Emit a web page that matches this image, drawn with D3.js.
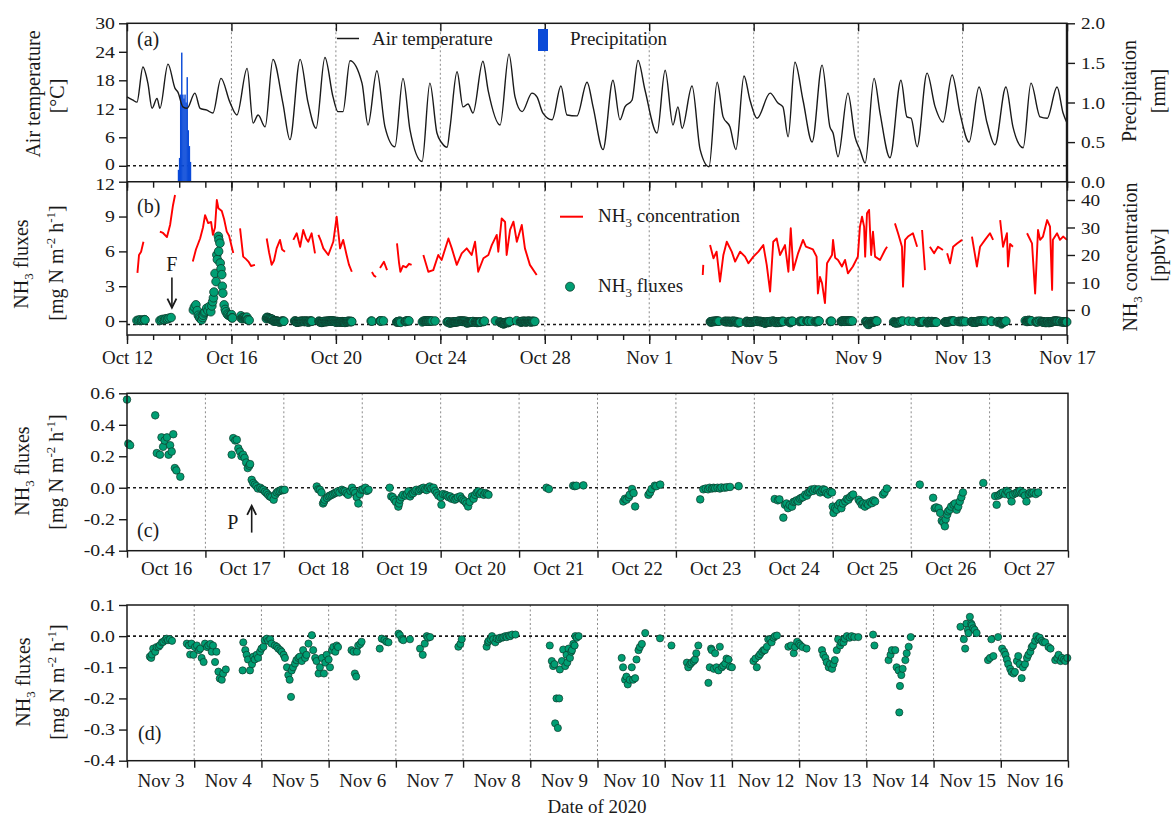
<!DOCTYPE html>
<html><head><meta charset="utf-8">
<script src="https://cdn.jsdelivr.net/npm/d3@7"></script>
<style>
body{margin:0;background:#fff}
svg{display:block;background:#fff}
</style>
</head><body>
<svg id="chart" width="1174" height="819"></svg>
<script>
// ---------------- DATA ----------------
// Panel (a): air temperature, day offset from Oct 12 00:00
const tempDay = [0,0.23,0.38,0.61,0.80,0.96,1.15,1.26,1.57,1.84,1.95,2.14,2.30,2.60,2.80,3.06,3.29,3.60,3.94,4.21,4.60,4.83,5.02,5.29,5.59,5.97,6.24,6.63,6.93,7.24,7.58,7.89,8.08,8.27,8.54,9.00,9.23,9.57,9.88,10.26,10.57,10.84,11.30,11.60,11.87,12.06,12.26,12.37,12.64,12.87,13.06,13.25,13.63,13.83,14.29,14.63,14.86,15.13,15.51,15.70,15.93,16.28,16.62,16.85,17.23,17.62,17.85,18.23,18.61,18.88,19.07,19.34,19.57,19.84,20.30,20.61,20.91,21.10,21.26,21.64,21.95,22.29,22.60,22.83,23.09,23.32,23.63,23.86,24.13,24.63,24.93,25.12,25.32,25.58,25.89,26.24,26.62,26.92,27.04,27.23,27.61,27.88,28.07,28.27,28.61,28.84,29.22,29.64,29.87,30.03,30.26,30.64,30.95,31.25,31.60,31.90,32.25,32.63,32.94,33.24,33.66,33.93,34.32,34.62,34.97,35.24,35.62,35.85,36.0];
const tempC = [14.5,13.8,13.4,20.8,17.4,12.1,14.2,12.1,21.4,16.3,15.5,12.4,12.1,15.3,12.1,11.7,11.1,18.4,13.4,10.7,20.5,9.0,10.7,8.2,22.4,13.2,5.5,22.4,13.4,7.9,22.8,14.5,11.4,11.4,22.1,17.4,8.6,20.0,8.2,4.0,18.4,7.5,0.9,17.4,6.9,4.8,3.9,8.0,19.8,12.4,13.0,11.1,22.0,15.9,8.6,23.5,14.5,11.4,15.3,14.5,11.1,9.7,16.8,10.7,10.5,17.6,12.4,3.4,18.0,9.7,12.4,13.8,22.2,15.9,6.9,20.1,8.6,12.4,7.9,16.8,3.4,-0.2,17.6,10.3,8.2,3.4,18.9,13.8,10.0,15.3,13.2,12.4,6.1,21.8,13.8,5.0,21.2,8.2,6.9,1.9,15.3,6.1,3.4,0.6,18.4,11.1,1.7,18.0,10.3,10.0,4.0,19.5,12.4,9.2,19.1,11.1,5.0,16.6,9.0,4.4,16.6,8.2,3.8,17.4,10.3,10.0,16.6,11.1,9.0];

// Precipitation, hourly bars: start day (from Oct 12), mm
const precipDay = [1.945,1.987,2.029,2.070,2.112,2.154,2.195,2.237,2.279,2.320,2.362,2.404];
const precipMM  = [0.15,0.30,1.10,1.63,1.10,1.05,1.10,1.00,1.32,0.65,0.45,0.25];
const precipHours = 1/24;

// Panel (b): NH3 concentration [day from Oct 12, ppbv]; null = gap
const nh3Conc = [
[0.40,13.5],[0.46,20],[0.54,21.2],[0.63,24.8],null,
[1.26,28.5],[1.38,28],[1.53,26.5],[1.65,30.9],[1.76,38],[1.84,41.8],null,
[2.52,17.6],[2.64,22],[2.80,26],[2.91,30],[2.99,34.5],[3.11,31.6],[3.22,32],[3.29,27.3],[3.37,30],[3.44,40],[3.50,37],[3.63,36],[3.72,33],[3.82,28.5],[3.91,27],[4.01,23],[4.07,20.7],null,
[4.33,29.7],[4.45,19.4],[4.56,18.5],[4.65,17.6],[4.75,16],[4.90,16.4],null,
[5.35,26],[5.44,21],[5.54,16.4],[5.63,18],[5.73,22.4],[5.86,25.5],[5.94,22],[6.05,21.2],null,
[6.37,25.5],[6.50,27.9],[6.63,23],[6.75,29.1],[6.86,26],[6.94,24.8],[7.07,27.9],[7.20,20.6],null,
[7.33,27.3],[7.43,25],[7.52,22.4],[7.71,20],[7.90,24.8],[8.03,33.9],[8.16,22.4],[8.28,25.5],[8.41,20],[8.50,16.5],[8.61,13.9],null,
[9.38,13.8],[9.46,12.5],[9.54,12],null,
[9.69,15.3],[9.84,17.5],[9.96,14.5],null,
[10.34,24.2],[10.42,17],[10.47,13.9],[10.57,16],[10.69,15.5],[10.80,16.8],[10.90,16.4],null,
[11.35,20],[11.54,13.9],[11.73,14.5],[11.92,20],[12.05,18.2],[12.31,26],[12.44,22.4],[12.63,16.4],[12.82,20.6],[13.01,22.4],[13.20,20],[13.33,24.8],[13.45,13.9],[13.65,18.8],[13.84,20],[13.97,23.6],[14.16,27.3],[14.22,21.2],[14.35,33.3],[14.48,32],[14.54,20],[14.67,29.1],[14.80,32.1],[14.93,24.8],[15.12,30.9],[15.24,22.4],[15.43,16.4],[15.69,12.7],null,
[22.05,12.7],[22.07,16.4],null,
[22.33,23.6],[22.46,18.8],[22.58,21.2],[22.71,10.3],[22.84,20],[22.97,24.8],[23.16,21.2],[23.29,17.6],[23.48,21.2],[23.67,19.4],[23.80,17],[23.99,19.4],[24.18,21.2],[24.37,23.6],[24.50,16.4],[24.63,6.7],[24.75,24.8],[24.88,26],[25.01,20],[25.20,23.6],[25.33,13.9],[25.42,29.7],[25.52,14.5],[25.70,20.6],[25.89,25.5],[26.00,23],[26.27,22],[26.41,19.4],[26.46,6],[26.54,12],[26.62,9.7],[26.73,2.5],[26.81,17],[27.00,20],[27.04,25.5],[27.12,19],[27.23,18.2],[27.38,15.8],[27.50,18.2],[27.61,13.3],[27.80,15.8],[27.99,19.4],[28.07,30.3],[28.15,33.9],[28.23,30.3],[28.27,19.4],[28.34,35.2],[28.42,36.4],[28.50,20],[28.57,28.5],[28.65,19.4],[28.84,18.2],[29.03,21.8],[29.11,23],null,
[29.41,31.5],[29.53,27.9],[29.68,23],[29.72,8.5],[29.80,25.5],[29.91,26.7],[30.10,27.9],[30.26,23],null,
[30.45,29.1],[30.56,14.5],null,
[30.75,23],[30.91,20.6],[31.06,23],[31.25,21.8],null,
[31.41,20.6],[31.52,17],[31.64,23],[31.79,24.2],[31.98,25.5],null,
[32.36,26.7],[32.55,15.8],[32.67,23],[32.86,25.5],[33.05,27.9],[33.17,25.5],null,
[33.44,32.7],[33.55,23],[33.70,27.9],[33.74,15.8],[33.82,24],[33.93,23],null,
[34.47,27.9],[34.66,24.2],[34.78,6],[34.89,29.1],[34.97,25.5],[35.08,26.7],[35.24,32.7],[35.35,30.3],[35.43,7.3],[35.46,25.5],[35.62,27.9],[35.73,25.5],[35.85,26.7],[36.0,25.5]
];

// NH3 fluxes around fertilisation, [day from Oct 12, mg N m-2 h-1]
const fluxEarly = [
[0.38,0.05],[0.44,0.08],[0.50,0.10],[0.56,0.06],[0.61,0.08],[0.67,0.12],[0.69,0.10],
[1.26,0.05],[1.32,0.10],[1.38,0.15],[1.44,0.12],[1.49,0.20],[1.55,0.18],[1.61,0.25],[1.69,0.30],
[2.54,0.95],[2.58,1.2],[2.64,1.4],[2.69,0.9],[2.73,0.5],[2.77,0.35],[2.80,0.23],[2.86,0.1],[2.90,0.3],[2.92,0.5],[2.96,0.7],[2.99,0.8],[3.05,1.1],[3.10,0.9],[3.15,1.24],[3.21,0.8],[3.25,1.3],[3.28,1.67],[3.31,2.0],[3.33,2.5],[3.37,4.1],[3.41,3.4],[3.44,5.7],[3.46,5.3],[3.50,7.3],[3.52,7.0],[3.56,6.7],[3.51,6.0],[3.57,5.0],[3.60,4.5],[3.63,4.0],[3.65,3.0],[3.67,2.4],[3.72,1.4],[3.76,1.0],[3.79,0.8],[3.84,0.6],[3.88,0.5],[3.94,0.45],[3.98,0.4]
];

// Panel (c): NH3 fluxes, [day from Oct 16, mg N m-2 h-1]
const fluxOct = [
[0,0.56],[0.017,0.28],[0.04,0.27],[0.36,0.46],[0.38,0.22],[0.42,0.21],[0.44,0.32],[0.46,0.26],[0.48,0.30],[0.51,0.32],[0.53,0.21],[0.55,0.27],[0.57,0.23],[0.59,0.34],[0.61,0.125],[0.63,0.11],[0.68,0.07],
[1.335,0.21],[1.355,0.315],[1.38,0.30],[1.40,0.305],[1.42,0.25],[1.44,0.23],[1.46,0.20],[1.48,0.21],[1.50,0.19],[1.52,0.16],[1.54,0.125],[1.56,0.14],[1.57,0.15],[1.59,0.05],[1.61,0.03],[1.63,0.02],[1.65,0.01],[1.67,-0.005],[1.70,0.0],[1.72,-0.01],[1.74,-0.013],[1.76,-0.025],[1.78,-0.034],[1.80,-0.045],[1.82,-0.055],[1.84,-0.06],[1.87,-0.076],[1.89,-0.045],[1.91,-0.03],[1.93,-0.023],[1.95,-0.02],[1.97,-0.013],[1.99,-0.015],[2.01,-0.013],
[2.42,0.008],[2.44,-0.01],[2.46,-0.013],[2.48,-0.03],[2.50,-0.10],[2.51,-0.09],[2.52,-0.076],[2.55,-0.065],[2.57,-0.055],[2.59,-0.05],[2.61,-0.045],[2.63,-0.04],[2.65,-0.034],[2.67,-0.03],[2.69,-0.023],[2.71,-0.03],[2.74,-0.013],[2.76,-0.02],[2.78,-0.023],[2.80,-0.035],[2.82,-0.045],[2.85,-0.02],[2.87,0.0],[2.89,-0.02],[2.91,-0.034],[2.93,-0.06],[2.95,-0.10],[2.97,-0.04],[2.99,-0.013],[3.01,-0.01],[3.04,0.0],[3.06,-0.02],[3.08,-0.013],
[3.35,0.0],[3.37,-0.055],[3.39,-0.06],[3.41,-0.076],[3.43,-0.09],[3.46,-0.12],[3.47,-0.10],[3.48,-0.076],[3.50,-0.06],[3.52,-0.045],[3.55,-0.05],[3.57,-0.04],[3.59,-0.023],[3.61,-0.055],[3.63,-0.04],[3.65,-0.034],[3.67,-0.02],[3.69,-0.013],[3.72,-0.02],[3.74,-0.01],[3.76,-0.005],[3.78,0.0],[3.80,-0.01],[3.82,-0.015],[3.84,0.0],[3.86,0.008],[3.88,-0.005],[3.91,0.0],[3.93,-0.02],[3.95,-0.034],
[3.97,-0.05],[4.00,-0.06],[4.01,-0.108],[4.03,-0.04],[4.06,-0.045],[4.08,-0.05],[4.10,-0.06],[4.12,-0.055],[4.14,-0.07],[4.16,-0.065],[4.18,-0.076],[4.20,-0.07],[4.22,-0.06],[4.25,-0.055],[4.27,-0.07],[4.29,-0.08],[4.31,-0.087],[4.33,-0.10],[4.35,-0.119],[4.37,-0.09],[4.40,-0.055],[4.42,-0.07],[4.44,-0.045],[4.46,-0.03],[4.48,-0.023],[4.50,-0.04],[4.52,-0.03],[4.55,-0.045],[4.57,-0.034],[4.59,-0.04],[4.61,-0.045],
[5.35,0.0],[5.38,-0.008],[5.69,0.013],[5.71,0.01],[5.73,0.013],[5.82,0.015],
[6.33,-0.087],[6.35,-0.07],[6.37,-0.076],[6.40,-0.06],[6.41,-0.045],[6.44,-0.008],[6.46,-0.034],[6.48,-0.119],[6.65,-0.045],[6.67,-0.03],[6.69,-0.008],[6.73,0.013],[6.75,0.01],[6.80,0.02],
[7.31,-0.074],[7.35,-0.01],[7.38,-0.005],[7.41,-0.01],[7.43,0.0],[7.46,-0.005],[7.48,0.0],[7.50,-0.003],[7.53,0.0],[7.56,-0.005],[7.58,0.002],[7.62,0.0],[7.65,0.003],[7.69,0.005],[7.80,0.01],
[8.26,-0.072],[8.30,-0.08],[8.32,-0.074],[8.37,-0.19],[8.39,-0.108],[8.41,-0.10],[8.43,-0.13],[8.45,-0.11],[8.48,-0.12],[8.50,-0.09],[8.52,-0.087],[8.54,-0.08],[8.56,-0.087],[8.58,-0.07],[8.60,-0.064],[8.62,-0.06],[8.65,-0.043],[8.67,-0.05],[8.69,-0.03],[8.71,-0.025],[8.73,-0.011],[8.75,-0.02],[8.77,-0.008],[8.80,-0.015],[8.82,-0.01],[8.84,-0.03],[8.86,-0.02],[8.88,-0.01],[8.90,-0.015],[8.92,-0.035],[8.94,-0.043],[8.97,-0.025],[8.99,-0.03],
[9.00,-0.12],[9.01,-0.16],[9.03,-0.13],[9.05,-0.14],[9.07,-0.11],[9.09,-0.098],[9.11,-0.13],[9.13,-0.10],[9.16,-0.087],[9.18,-0.07],[9.20,-0.076],[9.22,-0.06],[9.24,-0.05],[9.26,-0.043],[9.33,-0.076],[9.35,-0.09],[9.37,-0.108],[9.39,-0.10],[9.41,-0.12],[9.43,-0.10],[9.45,-0.108],[9.48,-0.09],[9.50,-0.098],[9.52,-0.08],[9.54,-0.087],[9.64,-0.043],[9.66,-0.03],[9.69,-0.005],
[10.11,0.02],[10.28,-0.064],[10.30,-0.13],[10.32,-0.125],[10.35,-0.13],[10.37,-0.16],[10.39,-0.21],[10.41,-0.22],[10.43,-0.245],[10.44,-0.20],[10.46,-0.17],[10.47,-0.15],[10.49,-0.14],[10.51,-0.12],[10.54,-0.108],[10.56,-0.10],[10.58,-0.14],[10.60,-0.12],[10.62,-0.087],[10.64,-0.06],[10.66,-0.03],
[10.92,0.03],
[11.07,-0.053],[11.09,-0.108],[11.11,-0.05],[11.13,-0.043],[11.15,-0.035],[11.17,-0.03],[11.20,-0.04],[11.22,-0.02],[11.24,-0.03],[11.26,-0.05],[11.28,-0.087],[11.30,-0.043],[11.33,-0.035],[11.35,-0.03],[11.37,-0.025],[11.39,-0.02],[11.41,-0.035],[11.43,-0.03],[11.45,-0.05],[11.47,-0.087],[11.50,-0.04],[11.52,-0.03],[11.54,-0.035],[11.56,-0.03],[11.59,-0.04],[11.62,-0.03]
];

// Panel (d): NH3 fluxes, [day from Nov 3, mg N m-2 h-1]
const fluxNov = [
[0.34,-0.066],[0.36,-0.07],[0.37,-0.059],[0.39,-0.04],[0.42,-0.05],[0.44,-0.035],[0.47,-0.034],[0.49,-0.029],[0.52,-0.02],[0.54,-0.018],[0.57,-0.012],[0.59,-0.008],[0.61,-0.013],[0.64,-0.01],[0.67,-0.015],
[0.89,-0.024],[0.92,-0.03],[0.94,-0.059],[0.96,-0.024],[0.99,-0.06],[1.01,-0.035],[1.04,-0.03],[1.07,-0.045],[1.09,-0.04],[1.11,-0.07],[1.14,-0.083],[1.16,-0.024],[1.19,-0.035],[1.21,-0.03],[1.24,-0.025],[1.26,-0.05],[1.28,-0.03],[1.31,-0.083],[1.33,-0.05],[1.36,-0.114],[1.38,-0.136],[1.41,-0.14],[1.43,-0.12],[1.47,-0.107],
[1.72,-0.11],[1.73,-0.02],[1.76,-0.045],[1.78,-0.06],[1.80,-0.075],[1.83,-0.11],[1.86,-0.09],[1.88,-0.066],[1.90,-0.075],[1.93,-0.06],[1.95,-0.07],[1.98,-0.05],[2.00,-0.04],[2.03,-0.034],[2.05,-0.013],[2.08,-0.008],[2.10,-0.015],[2.13,-0.01],[2.15,-0.024],[2.20,-0.03],[2.23,-0.034],[2.25,-0.04],[2.28,-0.045],[2.30,-0.05],[2.33,-0.06],[2.35,-0.07],[2.38,-0.10],[2.40,-0.125],[2.42,-0.14],[2.44,-0.195],[2.45,-0.11],[2.47,-0.10],[2.50,-0.088],[2.52,-0.077],[2.55,-0.07],[2.57,-0.066],[2.60,-0.08],[2.62,-0.045],[2.65,-0.07],[2.67,-0.06],[2.70,-0.024],[2.75,0.003],[2.77,-0.045],[2.80,-0.07],[2.82,-0.08],[2.85,-0.12],[2.87,-0.10],[2.90,-0.07],[2.93,-0.12],[2.95,-0.085],[2.97,-0.06],[3.00,-0.075],[3.02,-0.10],[3.05,-0.045],[3.07,-0.035],[3.10,-0.05],[3.12,-0.03],[3.14,-0.035],
[3.34,-0.045],[3.37,-0.05],[3.39,-0.12],[3.41,-0.13],[3.42,-0.05],[3.44,-0.03],[3.47,-0.025],[3.49,-0.018],[3.76,-0.04],[3.79,-0.008],[3.83,-0.012],[3.86,-0.018],[3.89,-0.02],
[4.04,0.008],[4.06,0.003],[4.09,-0.01],[4.11,-0.013],[4.21,-0.01],[4.36,-0.04],[4.40,-0.06],[4.43,-0.024],[4.46,0.0],[4.48,-0.005],[4.51,-0.003],[4.93,-0.034],[4.96,-0.025],[4.98,-0.01],
[5.35,-0.034],[5.37,-0.02],[5.38,-0.015],[5.41,-0.01],[5.43,0.0],[5.45,-0.01],[5.48,-0.02],[5.50,-0.008],[5.53,-0.01],[5.55,-0.005],[5.58,-0.005],[5.60,-0.003],[5.63,0.0],[5.65,-0.003],[5.68,0.002],[5.70,0.0],[5.73,0.005],[5.78,0.005],
[6.29,-0.03],[6.32,-0.08],[6.34,-0.096],[6.36,-0.09],[6.37,-0.28],[6.39,-0.20],[6.41,-0.295],[6.43,-0.20],[6.44,-0.107],[6.47,-0.08],[6.49,-0.043],[6.52,-0.096],[6.54,-0.06],[6.55,-0.085],[6.57,-0.04],[6.59,-0.07],[6.61,-0.05],[6.62,-0.045],[6.64,-0.025],[6.66,-0.03],[6.67,0.0],[6.69,-0.005],[6.72,0.0],
[7.36,-0.07],[7.38,-0.10],[7.41,-0.14],[7.43,-0.13],[7.45,-0.155],[7.48,-0.14],[7.51,-0.10],[7.53,-0.14],[7.56,-0.135],[7.58,-0.075],[7.61,-0.045],[7.63,-0.035],[7.66,-0.025],[7.71,0.01],[7.93,-0.007],
[8.10,-0.03],[8.33,-0.085],[8.35,-0.10],[8.38,-0.09],[8.40,-0.085],[8.43,-0.08],[8.45,-0.075],[8.47,-0.055],[8.50,-0.03],[8.65,-0.15],[8.67,-0.10],[8.69,-0.04],[8.70,-0.045],[8.73,-0.105],[8.75,-0.055],[8.77,-0.10],[8.80,-0.11],[8.82,-0.034],[8.85,-0.10],[8.87,-0.095],[8.90,-0.088],[8.92,-0.072],[8.95,-0.075],[8.97,-0.098],[9.00,-0.10],
[9.32,-0.08],[9.35,-0.072],[9.37,-0.10],[9.40,-0.064],[9.42,-0.058],[9.45,-0.05],[9.47,-0.045],[9.49,-0.045],[9.52,-0.034],[9.54,-0.01],[9.57,-0.01],[9.59,-0.02],[9.62,-0.005],[9.64,0.0],[9.67,0.002],[9.84,-0.034],[9.88,-0.03],[9.92,-0.055],[9.94,-0.035],[9.97,-0.018],[10.00,-0.025],[10.02,-0.03],[10.05,-0.035],[10.11,-0.04],
[10.34,-0.045],[10.36,-0.06],[10.39,-0.07],[10.41,-0.084],[10.44,-0.10],[10.46,-0.09],[10.49,-0.105],[10.51,-0.09],[10.53,-0.077],[10.56,-0.045],[10.58,-0.01],[10.61,-0.03],[10.63,-0.02],[10.66,-0.02],[10.68,-0.008],[10.71,0.0],[10.75,-0.005],[10.78,0.0],[10.82,-0.003],[10.88,-0.003],
[11.10,0.005],[11.12,-0.03],[11.33,-0.077],[11.36,-0.06],[11.38,-0.045],[11.43,-0.045],[11.45,-0.10],[11.48,-0.11],[11.49,-0.245],[11.50,-0.16],[11.52,-0.125],[11.54,-0.105],[11.58,-0.077],[11.60,-0.055],[11.63,-0.034],[11.66,-0.003],
[12.40,0.03],[12.45,-0.01],[12.47,-0.04],[12.49,0.04],[12.51,0.02],[12.52,0.01],[12.54,0.062],[12.56,0.04],[12.57,0.035],[12.59,0.025],[12.61,0.02],[12.64,0.01],[12.81,-0.077],[12.84,-0.07],[12.86,-0.01],[12.89,-0.064],[12.96,-0.003],
[13.02,-0.04],[13.05,-0.05],[13.07,-0.06],[13.09,-0.075],[13.11,-0.09],[13.14,-0.105],[13.16,-0.115],[13.19,-0.12],[13.21,-0.115],[13.24,-0.08],[13.26,-0.064],[13.28,-0.09],[13.31,-0.135],[13.33,-0.10],[13.36,-0.09],[13.39,-0.07],[13.41,-0.06],[13.44,-0.05],[13.46,-0.035],[13.48,-0.03],[13.51,-0.015],[13.53,0.0],[13.56,-0.01],[13.58,-0.005],[13.61,-0.015],[13.63,-0.02],[13.66,-0.02],[13.71,-0.035],[13.74,-0.04],[13.81,-0.077],[13.84,-0.07],[13.86,-0.06],[13.89,-0.08],[13.91,-0.07],[13.94,-0.075],[13.96,-0.08],[13.99,-0.07]
];
// day offsets of panel (c) and (d) data relative to Oct 12
const octOffset = 4, novOffset = 22;

// Tick values / labels
const tempTicks = [0,6,12,18,24,30];
const precipTicks = [0,0.5,1.0,1.5,2.0];
const fluxTicksB = [0,3,6,9,12];
const concTicks = [0,10,20,30,40];
const fluxTicksC = [-0.4,-0.2,0.0,0.2,0.4,0.6];
const fluxTicksD = [-0.4,-0.3,-0.2,-0.1,0.0,0.1];
const abTickDays = [0,4,8,12,16,20,24,28,32,36];
const abTickLabels = ["Oct 12","Oct 16","Oct 20","Oct 24","Oct 28","Nov 1","Nov 5","Nov 9","Nov 13","Nov 17"];
const cTickLabels = ["Oct 16","Oct 17","Oct 18","Oct 19","Oct 20","Oct 21","Oct 22","Oct 23","Oct 24","Oct 25","Oct 26","Oct 27"];
const dTickLabels = ["Nov 3","Nov 4","Nov 5","Nov 6","Nov 7","Nov 8","Nov 9","Nov 10","Nov 11","Nov 12","Nov 13","Nov 14","Nov 15","Nov 16"];

// Annotations (data coordinates)
const annotF = {day:1.72, text:"F", textFlux:4.3, from:3.75, to:1.15};
const annotP = {day:1.59, text:"P", textDay:1.35, textFlux:-0.265, from:-0.285, to:-0.115};

// ---------------- DRAWING ----------------
const FONT = "'Liberation Serif','Times New Roman',Times,serif";
const INK = "#1a1a1a";
const GREEN = "#009e73", GREEN_EDGE = "#0d3b2b";
const svg = d3.select("#chart").attr("font-family", FONT);

const xAB = d3.scaleLinear().domain([0,36]).range([127,1067]);
const yT  = d3.scaleLinear().domain([-3.35,30]).range([181.7,23.3]);
const yP  = d3.scaleLinear().domain([0,2]).range([181.7,23.3]);
const yF  = d3.scaleLinear().domain([-1.2,12]).range([335,181.7]);
const yC  = d3.scaleLinear().domain([-9.1,46.65]).range([335,181.7]);
const xC  = d3.scaleLinear().domain([0,12]).range([127,1068]);
const yFC = d3.scaleLinear().domain([-0.4,0.6]).range([550.7,393.3]);
const xD  = d3.scaleLinear().domain([0,14]).range([127,1068]);
const yFD = d3.scaleLinear().domain([-0.4,0.1]).range([760.7,605]);

function vgrid(xs, days, y0, y1){
  svg.append("g").selectAll("line").data(days).join("line")
    .attr("x1", d=>xs(d)).attr("x2", d=>xs(d)).attr("y1", y0).attr("y2", y1)
    .attr("stroke","#8a8a8a").attr("stroke-width",1).attr("stroke-dasharray","2,2.5");
}
function hzero(xs, ys, v){
  svg.append("line").attr("x1", xs.range()[0]).attr("x2", xs.range()[1])
    .attr("y1", ys(v)).attr("y2", ys(v))
    .attr("stroke",INK).attr("stroke-width",1.6).attr("stroke-dasharray","3,3");
}
function styleAxis(g, fs){
  g.attr("font-family", FONT).attr("font-size", fs);
  g.select(".domain").remove();
  g.selectAll(".tick line").attr("stroke", INK).attr("stroke-width", 1.4);
  g.selectAll(".tick text").attr("fill", INK);
}
function stretchText(g, s){
  g.selectAll(".tick text").each(function(){
    const t = d3.select(this); const x = +t.attr("x");
    t.attr("x", x/s).attr("transform", `scale(${s},1)`);
  });
}
function leftAxis(ys, ticks, fmt, nudge){
  const g = svg.append("g").attr("transform","translate(127,0)")
    .call(d3.axisLeft(ys).tickValues(ticks).tickFormat(fmt).tickSize(8).tickPadding(4));
  styleAxis(g, 16.5); stretchText(g, 1.2);
  if(nudge){ g.selectAll(".tick text").attr("y",(d)=> (nudge[d]||0)); }
}
function rightAxis(ys, ticks, fmt){
  const g = svg.append("g").attr("transform","translate(1067,0)")
    .call(d3.axisRight(ys).tickValues(ticks).tickFormat(fmt).tickSize(8).tickPadding(6));
  styleAxis(g, 17.5); stretchText(g, 1.1);
}
function plainTicks(xs, y, vals, size){
  const g = svg.append("g").attr("transform",`translate(0,${y})`)
    .call(d3.axisBottom(xs).tickValues(vals).tickSize(size).tickFormat(""));
  styleAxis(g, 19);
}
function labelTicks(xs, y, vals, labels, pad){
  const g = svg.append("g").attr("transform",`translate(0,${y})`)
    .call(d3.axisBottom(xs).tickValues(vals).tickSize(0).tickPadding(pad).tickFormat((d,i)=>labels[i]));
  styleAxis(g, 19);
}
function rotTitle(x, y, parts, fs){
  const t = svg.append("text").attr("transform",`translate(${x},${y}) rotate(-90)`)
    .attr("text-anchor","middle").attr("font-size", fs).attr("fill", INK);
  addParts(t, parts);
}
function addParts(t, parts){
  parts.forEach(([s,type])=>{
    const sp = t.append("tspan").text(s);
    if(type==="sub"){ sp.attr("dy",5).attr("font-size",13); }
    else if(type==="sup"){ sp.attr("dy",-8).attr("font-size",13); }
    else if(type==="back-sub"){ sp.attr("dy",-5); }
    else if(type==="back-sup"){ sp.attr("dy",8); }
  });
}
const dayRange = (a,b)=>d3.range(a,b+1);

// ---- Panel (a) ----
vgrid(xAB, abTickDays.slice(1,-1), 23.3, 335);
hzero(xAB, yT, 0);
svg.append("g").selectAll("rect").data(precipDay).join("rect")
  .attr("x", d=>xAB(d)).attr("width", d=>xAB(d+precipHours)-xAB(d)+0.35)
  .attr("y", (d,i)=>yP(precipMM[i])).attr("height",(d,i)=>yP(0)-yP(precipMM[i]))
  .attr("fill","#0a4ad8");
svg.append("path").datum(tempDay.map((d,i)=>[d,tempC[i]]))
  .attr("d", d3.line().x(d=>xAB(d[0])).y(d=>yT(d[1])).curve(d3.curveMonotoneX))
  .attr("fill","none").attr("stroke",INK).attr("stroke-width",1.4);

// ---- Panel (b) ----
hzero(xAB, yF, -0.3);
svg.append("path").datum(nh3Conc)
  .attr("d", d3.line().defined(d=>d!==null).x(d=>xAB(d[0])).y(d=>yC(d[1])))
  .attr("fill","none").attr("stroke","#ff0000").attr("stroke-width",1.9).attr("stroke-linejoin","round");
const fluxB = fluxEarly.map(d=>[d[0],d[1]])
  .concat(fluxOct.map(d=>[d[0]+octOffset,d[1]]))
  .concat(fluxNov.map(d=>[d[0]+novOffset,d[1]]));
svg.append("g").selectAll("circle").data(fluxB).join("circle")
  .attr("cx", d=>xAB(d[0])).attr("cy", d=>yF(d[1])).attr("r",4.3)
  .attr("fill",GREEN).attr("stroke",GREEN_EDGE).attr("stroke-width",0.8);

// frame a/b
svg.append("rect").attr("x",127).attr("y",23.3).attr("width",940).attr("height",311.7)
  .attr("fill","none").attr("stroke",INK).attr("stroke-width",1.5);
svg.append("line").attr("x1",127).attr("x2",1067).attr("y1",181.7).attr("y2",181.7)
  .attr("stroke",INK).attr("stroke-width",1.5);
svg.append("line").attr("x1",1067).attr("x2",1067).attr("y1",23.3).attr("y2",181.7)
  .attr("stroke",INK).attr("stroke-width",2.4);

leftAxis(yT, tempTicks, d=>d, {0:-2});
rightAxis(yP, precipTicks, d=>d.toFixed(1));
leftAxis(yF, fluxTicksB, d=>d, {12:2.5});
rightAxis(yC, concTicks, d=>d);
plainTicks(xAB, 23.3, abTickDays, 8);
plainTicks(xAB, 181.7, dayRange(0,36), 6);
plainTicks(xAB, 181.7, abTickDays, 9);
plainTicks(xAB, 335, dayRange(0,36), 5);
plainTicks(xAB, 335, abTickDays, 9);
labelTicks(xAB, 335, abTickDays, abTickLabels, 16);

// legends
svg.append("line").attr("x1",337).attr("x2",359).attr("y1",38.5).attr("y2",38.5).attr("stroke",INK).attr("stroke-width",1.5);
svg.append("text").attr("x",372).attr("y",45).attr("font-size",19).attr("fill",INK).text("Air temperature");
svg.append("rect").attr("x",538).attr("y",29).attr("width",10).attr("height",22).attr("fill","#0a4ad8");
svg.append("text").attr("x",570).attr("y",45).attr("font-size",19).attr("fill",INK).text("Precipitation");
svg.append("line").attr("x1",560).attr("x2",583).attr("y1",216.7).attr("y2",216.7).attr("stroke","#ff0000").attr("stroke-width",2);
addParts(svg.append("text").attr("x",598).attr("y",222).attr("font-size",19).attr("fill",INK),
  [["NH"],["3","sub"],[" concentration","back-sub"]]);
svg.append("circle").attr("cx",570).attr("cy",286.7).attr("r",4.5).attr("fill",GREEN).attr("stroke",GREEN_EDGE).attr("stroke-width",0.8);
addParts(svg.append("text").attr("x",598).attr("y",292).attr("font-size",19).attr("fill",INK),
  [["NH"],["3","sub"],[" fluxes","back-sub"]]);

svg.append("text").attr("x",137).attr("y",46).attr("font-size",20).attr("fill",INK).text("(a)");
svg.append("text").attr("x",137).attr("y",213).attr("font-size",20).attr("fill",INK).text("(b)");

// arrows
function arrow(x, y0, y1){
  svg.append("line").attr("x1",x).attr("x2",x).attr("y1",y0).attr("y2",y1).attr("stroke",INK).attr("stroke-width",1.6);
  const dir = y1>y0 ? 1 : -1;
  svg.append("path").attr("d",`M${x-4.5},${y1-dir*9} L${x},${y1} L${x+4.5},${y1-dir*9}`)
    .attr("fill","none").attr("stroke",INK).attr("stroke-width",1.8);
}
svg.append("text").attr("x",xAB(annotF.day)).attr("y",yF(annotF.textFlux)).attr("text-anchor","middle").attr("font-size",20).attr("fill",INK).text(annotF.text);
arrow(xAB(annotF.day), yF(annotF.from), yF(annotF.to));

// titles a/b
rotTitle(40, 94, [["Air temperature"]], 20);
rotTitle(64, 96, [["[°C]"]], 20);
rotTitle(28, 264, [["NH"],["3","sub"],[" fluxes","back-sub"]], 20);
rotTitle(63, 263, [["[mg N m"],["-2","sup"],[" h","back-sup"],["-1","sup"],["]","back-sup"]], 20);
rotTitle(1136, 91, [["Precipitation"]], 20);
rotTitle(1165, 91, [["[mm]"]], 20);
rotTitle(1137, 257, [["NH"],["3","sub"],[" concentration","back-sub"]], 20);
rotTitle(1165, 255, [["[ppbv]"]], 20);

// ---- Panel (c) ----
vgrid(xC, dayRange(1,11), 393.3, 550.7);
hzero(xC, yFC, 0);
svg.append("g").selectAll("circle").data(fluxOct).join("circle")
  .attr("cx", d=>xC(d[0])).attr("cy", d=>yFC(d[1])).attr("r",3.8)
  .attr("fill",GREEN).attr("stroke",GREEN_EDGE).attr("stroke-width",0.7);
svg.append("rect").attr("x",127).attr("y",393.3).attr("width",941).attr("height",157.4)
  .attr("fill","none").attr("stroke",INK).attr("stroke-width",1.5);
leftAxis(yFC, fluxTicksC, d=>d.toFixed(1));
plainTicks(xC, 550.7, dayRange(0,12), 7);
labelTicks(xC, 550.7, cTickLabels.map((d,i)=>i+0.5), cTickLabels, 11);
svg.append("text").attr("x",137).attr("y",537).attr("font-size",20).attr("fill",INK).text("(c)");
svg.append("text").attr("x",xC(annotP.textDay)).attr("y",yFC(annotP.textFlux)).attr("text-anchor","middle").attr("font-size",20).attr("fill",INK).text(annotP.text);
arrow(xC(annotP.day), yFC(annotP.from), yFC(annotP.to));
rotTitle(28.5, 471, [["NH"],["3","sub"],[" fluxes","back-sub"]], 20);
rotTitle(63, 472, [["[mg N m"],["-2","sup"],[" h","back-sup"],["-1","sup"],["]","back-sup"]], 20);

// ---- Panel (d) ----
vgrid(xD, dayRange(1,13), 605, 760.7);
hzero(xD, yFD, 0);
svg.append("g").selectAll("circle").data(fluxNov).join("circle")
  .attr("cx", d=>xD(d[0])).attr("cy", d=>yFD(d[1])).attr("r",3.6)
  .attr("fill",GREEN).attr("stroke",GREEN_EDGE).attr("stroke-width",0.7);
svg.append("rect").attr("x",127).attr("y",605).attr("width",941).attr("height",155.7)
  .attr("fill","none").attr("stroke",INK).attr("stroke-width",1.5);
leftAxis(yFD, fluxTicksD, d=>d.toFixed(1));
plainTicks(xD, 760.7, dayRange(0,14), 7);
labelTicks(xD, 760.7, dTickLabels.map((d,i)=>i+0.5), dTickLabels, 13);
svg.append("text").attr("x",138).attr("y",740).attr("font-size",20).attr("fill",INK).text("(d)");
rotTitle(30, 682, [["NH"],["3","sub"],[" fluxes","back-sub"]], 20);
rotTitle(64, 682, [["[mg N m"],["-2","sup"],[" h","back-sup"],["-1","sup"],["]","back-sup"]], 20);

svg.append("text").attr("x",597).attr("y",813).attr("text-anchor","middle").attr("font-size",19).attr("fill",INK).text("Date of 2020");
</script>
</body></html>
